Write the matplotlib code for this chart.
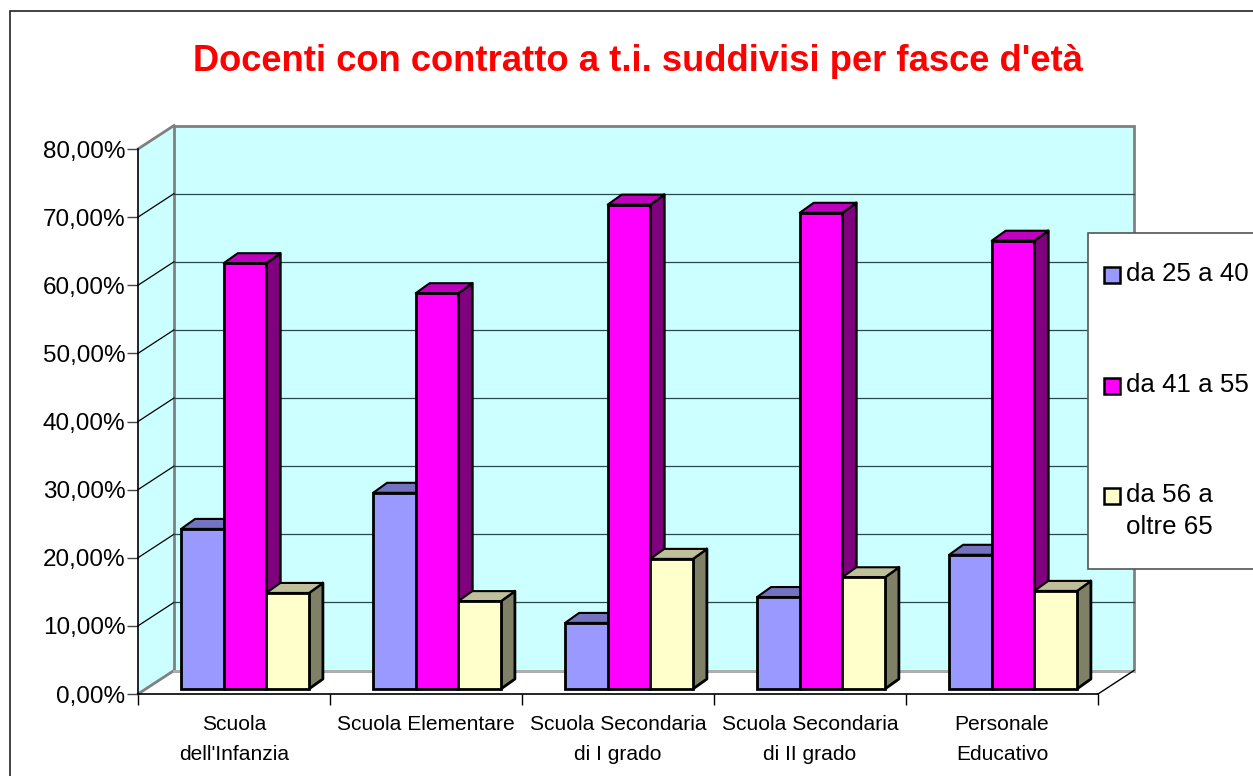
import numpy as np
import matplotlib
matplotlib.use('Agg')
import matplotlib.pyplot as plt
from matplotlib.patches import Polygon, Rectangle

plt.rcParams['font.family'] = ['Liberation Sans', 'DejaVu Sans']

# Dati
categorie = ["Scuola\ndell'Infanzia", "Scuola Elementare", "Scuola Secondaria\ndi I grado",
             "Scuola Secondaria\ndi II grado", "Personale\nEducativo"]
fascia_25_40 = [23.5, 28.8, 9.7, 13.5, 19.7]
fascia_41_55 = [62.5, 58.1, 71.1, 69.9, 65.8]
fascia_56_65 = [14.1, 12.9, 19.1, 16.4, 14.4]
etichette = ['da 25 a 40', 'da 41 a 55', 'da 56 a\noltre 65']
colori = ['#9999FF', '#FF00FF', '#FFFFCC']
colori_top = ['#7373BF', '#BF00BF', '#BFBF99']
colori_lato = ['#4D4D80', '#800080', '#808066']
tick_y = np.arange(0, 90, 10)

W, H = 1253, 776
fig = plt.figure(figsize=(W / 100, H / 100), dpi=100, facecolor='white')

# cornice esterna e titolo
fig.add_artist(Rectangle((10 / W, -0.1), 1.1, 1.1 - 11 / H, transform=fig.transFigure,
                         fill=False, ec='#222222', lw=1.2))
fig.text(637.5 / W, 1 - 61.5 / H, "Docenti con contratto a t.i. suddivisi per fasce d'età", color='#FF0000',
         fontsize=26.2, fontweight='bold', ha='center', va='center')

# asse sul piano frontale: 138-1098 px, 0% a 694, 80% a 149
ax = fig.add_axes([138 / W, 1 - 694 / H, 960 / W, 545 / H])
ax.set_xlim(0, 5)
ax.set_ylim(0, 80)
for s in ax.spines.values():
    s.set_visible(False)
ax.patch.set_visible(False)

px_x = 5 / 960
px_y = 80 / 545
dx, dy = 36 * px_x, 23.5 * px_y  # profondità del muro

# pareti
ax.add_patch(Polygon([(0, 0), (dx, dy), (dx, 80 + dy), (0, 80)], fc='#CCFFFF', ec='none', clip_on=False, zorder=1))
ax.add_patch(Rectangle((dx, dy), 5, 80, fc='#CCFFFF', ec='#808080', lw=2, clip_on=False, zorder=1))
ax.plot([0, dx], [80, 80 + dy], color='#808080', lw=2, clip_on=False, zorder=2)
ax.plot([0, dx], [0, dy], color='#808080', lw=2, clip_on=False, zorder=2)
ax.plot([dx, 5 + dx], [dy, dy], color='#B0B0B0', lw=2, clip_on=False, zorder=2)
ax.plot([5, 5 + dx], [0, dy], color='black', lw=1, clip_on=False, zorder=2)

# griglia
for v in tick_y[1:-1]:
    ax.plot([0, dx], [v, v + dy], color='black', lw=0.9, clip_on=False, zorder=2)
    ax.plot([dx, 5 + dx], [v + dy, v + dy], color='#2A4A4A', lw=0.9, clip_on=False, zorder=2)

ax.plot([0, 0], [0, 80], color='black', lw=1.2, clip_on=False, zorder=3)
ax.plot([0, 5], [0, 0], color='black', lw=1.2, clip_on=False, zorder=3)

# barre con le facce 3D
serie = [fascia_25_40, fascia_41_55, fascia_56_65]
larg = 42.6 * px_x
bx, by = 14 * px_x, 10 * px_y
base = 5 * px_y
sh = 11 * px_x
for i in range(len(categorie)):
    for j in [1, 0, 2]:
        val = serie[j][i]
        x0 = i + 0.5 + sh + (j - 1.5) * larg
        x1 = x0 + larg
        z = 5 + {0: 0, 1: 0, 2: 1}[j]
        ax.add_patch(Polygon([(x1, base), (x1 + bx, base + by), (x1 + bx, val + base + by), (x1, val + base)],
                             fc=colori_lato[j], ec='black', lw=2, joinstyle='round', clip_on=False, zorder=z))
        ax.add_patch(Polygon([(x0, val + base), (x0 + bx, val + base + by), (x1 + bx, val + base + by), (x1, val + base)],
                             fc=colori_top[j], ec='black', lw=1.5, joinstyle='round', clip_on=False, zorder=z))
        ax.bar(x0, val, width=larg, bottom=base, align='edge', color=colori[j], edgecolor='black',
               linewidth=2, clip_on=False, zorder=z + 0.5)

# tacche ed etichette
ax.set_yticks(tick_y)
ax.set_yticklabels([f'{v},00%' for v in tick_y], fontsize=17.5)
ax.set_xticks(np.arange(0, 6))
ax.set_xticklabels([])
ax.tick_params(axis='y', length=8, width=1, pad=1, color='#444444')
ax.tick_params(axis='x', length=8, width=1, direction='out')
for i, c in enumerate(categorie):
    righe = c.split('\n')
    xc = (138 + (i + 0.5) * 192) / W
    if len(righe) == 1:
        fig.text(xc, 1 - 724 / H, righe[0], fontsize=15.1, ha='center', va='center')
    else:
        for r, y in zip(righe, [724, 755]):
            fig.text(xc, 1 - y / H, r, fontsize=15.1, ha='center', va='center')

# legenda disegnata a mano come nell'originale
fig.add_artist(Rectangle((1088 / W, 1 - 569 / H), 200 / W, 336 / H, transform=fig.transFigure,
                         fc='white', ec='#555555', lw=1.2, zorder=10))
for (e, c, y) in zip(etichette, colori, [274, 385, 495]):
    fig.add_artist(Rectangle((1104 / W, 1 - (y + 9) / H), 16 / W, 16 / H, transform=fig.transFigure,
                             fc=c, ec='black', lw=1.8, zorder=11))
    fig.text(1126 / W, 1 - y / H, e.split('\n')[0], fontsize=18.6, ha='left', va='center', zorder=12)
    if '\n' in e:
        fig.text(1126 / W, 1 - (y + 32) / H, e.split('\n')[1], fontsize=18.6, ha='left', va='center', zorder=12)

fig.savefig('out.png', dpi=100)
